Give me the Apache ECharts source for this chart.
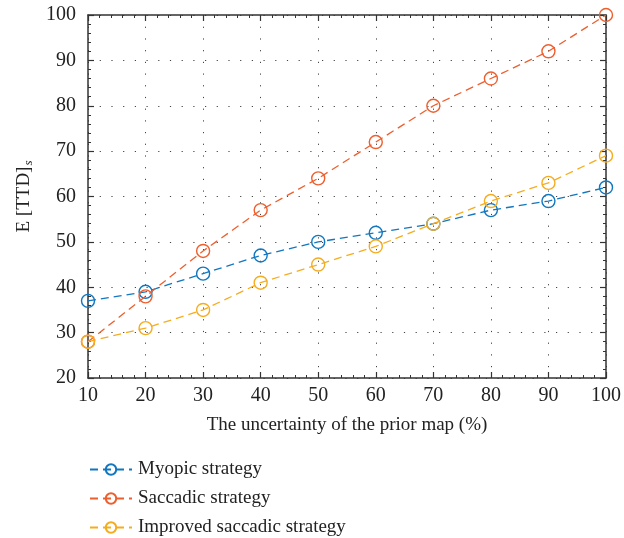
<!DOCTYPE html>
<html><head><meta charset="utf-8">
<script src="https://cdn.jsdelivr.net/npm/echarts@6/dist/echarts.min.js"></script>
<style>html,body{margin:0;padding:0;background:#fff}#c{width:624px;height:538px}</style>
</head><body><div id="c"></div>
<script>
const xValues = [10, 20, 30, 40, 50, 60, 70, 80, 90, 100];
const myopic = [37, 39, 43, 47, 50, 52, 54, 57, 59, 62];
const saccadic = [28, 38, 48, 57, 64, 72, 80, 86, 92, 100];
const improved = [28, 31, 35, 41, 45, 49, 54, 59, 63, 69];
const seriesNames = ['Myopic strategy', 'Saccadic strategy', 'Improved saccadic strategy'];
const colors = ['#1177C0', '#EE5F2E', '#F5AD1F'];

const FONT = '"Liberation Serif", "DejaVu Serif", serif';
const chart = echarts.init(document.getElementById('c'));
function mk(name, vals, i) {
  return {
    name: name, type: 'line',
    data: xValues.map((x, k) => [x, vals[k]]),
    symbol: 'circle', symbolSize: 13,
    itemStyle: {color: 'rgba(255,255,255,0)', borderColor: colors[i], borderWidth: 1.4},
    lineStyle: {color: colors[i], width: 1.3, type: [8, 5]},
    z: 3 + i
  };
}
const tickStyle = {show: true, inside: true, length: 6, lineStyle: {color: '#333', width: 1.2}};
const minorTick = {show: true, splitNumber: 5, length: 3, lineStyle: {color: '#333', width: 1}};
const labelStyle = {fontFamily: FONT, fontSize: 20, color: '#222'};
chart.setOption({
  animation: false,
  grid: {left: 88, right: 12, top: 15, bottom: 160, containLabel: false},
  legend: {
    orient: 'vertical', left: 84, top: 455, height: 90, itemGap: 10,
    itemWidth: 42, itemHeight: 13,
    textStyle: {fontFamily: FONT, fontSize: 19, color: '#222', padding: [0, 0, 0, 1]},
    data: seriesNames
  },
  xAxis: [{
    type: 'value', min: 10, max: 100, interval: 10,
    name: 'The uncertainty of the prior map (%)', nameLocation: 'middle', nameGap: 38,
    nameTextStyle: {fontFamily: FONT, fontSize: 19, color: '#222'},
    axisLine: {lineStyle: {color: '#333', width: 1.5}},
    axisTick: tickStyle, minorTick: minorTick,
    axisLabel: Object.assign({margin: 8}, labelStyle),
    splitLine: {show: true, lineStyle: {color: '#444', width: 1, type: [1.2, 10.5]}}
  }, {
    type: 'value', position: 'top', min: 10, max: 100, interval: 10,
    axisLine: {show: true, lineStyle: {color: '#333', width: 1.5}},
    axisTick: tickStyle, minorTick: minorTick,
    axisLabel: {show: false}, splitLine: {show: false}
  }],
  yAxis: [{
    type: 'value', min: 20, max: 100, interval: 10,
    name: '{a|E [TTD]}{b|s}', nameLocation: 'middle', nameGap: 46, nameRotate: 90,
    nameTextStyle: {rich: {
      a: {fontFamily: FONT, fontSize: 19, color: '#222'},
      b: {fontFamily: FONT, fontSize: 13, fontStyle: 'italic', color: '#222', padding: [10, 0, 0, 1]}
    }},
    axisLine: {show: true, lineStyle: {color: '#333', width: 1.5}},
    axisTick: tickStyle, minorTick: minorTick,
    axisLabel: Object.assign({margin: 12}, labelStyle),
    splitLine: {show: true, lineStyle: {color: '#444', width: 1, type: [1.2, 10.5]}}
  }, {
    type: 'value', position: 'right', min: 20, max: 100, interval: 10,
    axisLine: {show: true, lineStyle: {color: '#333', width: 1.5}},
    axisTick: tickStyle, minorTick: minorTick,
    axisLabel: {show: false}, splitLine: {show: false}
  }],
  series: [mk(seriesNames[0], myopic, 0), mk(seriesNames[1], saccadic, 1), mk(seriesNames[2], improved, 2)]
});
</script></body></html>
